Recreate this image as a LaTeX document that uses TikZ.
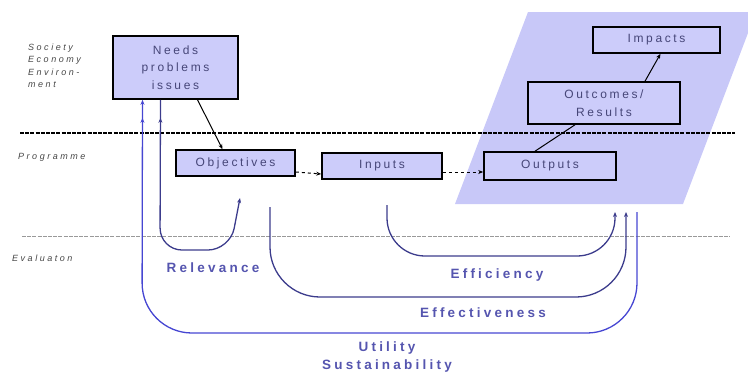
\documentclass[tikz,border=0pt]{standalone}
\usepackage{fontspec}
\setmainfont{Liberation Sans}
\newfontfamily\boxfont[LetterSpace=22]{Liberation Sans}
\newfontfamily\labfont[LetterSpace=24]{Liberation Sans}
\newfontfamily\sidefont[LetterSpace=28]{Liberation Sans}
\usetikzlibrary{arrows.meta,decorations.markings}
\definecolor{boxfill}{RGB}{204,204,250}
\definecolor{parfill}{RGB}{200,200,248}
\definecolor{boxtext}{RGB}{70,70,120}
\definecolor{navy}{RGB}{60,60,140}
\definecolor{brightblue}{RGB}{70,70,210}
\definecolor{labblue}{RGB}{85,85,175}
\definecolor{sidegray}{RGB}{70,70,70}
\tikzset{
  box/.style={draw=black, line width=1.6pt, fill=boxfill, text=boxtext,
    font=\boxfont\fontsize{12}{17.5}\selectfont, align=center, inner sep=0pt},
  sidelab/.style={text=sidegray, font=\sidefont\itshape\fontsize{9}{12.5}\selectfont, align=left, anchor=west, inner sep=0pt},
  evallab/.style={text=labblue, font=\labfont\bfseries\fontsize{13.5}{18}\selectfont, inner sep=0pt},
  loop/.style={draw=navy, line width=1.3pt},
  uloop/.style={draw=brightblue, line width=1.3pt},
  tip/.style={-{Stealth[length=5pt,width=4pt]}},
  flow/.style={draw=black, line width=1pt},
}
\begin{document}
\begin{tikzpicture}[x=1pt,y=-1pt]
\useasboundingbox (0,0) rectangle (748,376);
% parallelogram
\fill[parfill] (455,204) -- (683,204) -- (756,12) -- (528,12) -- cycle;
\fill[white] (748,0) rectangle (760,376);
% separator lines
\draw[black, line width=2.2pt, dash pattern=on 4pt off 1.2pt] (20,133) -- (735,133);
\draw[gray!80, line width=1pt, dash pattern=on 4pt off 1.2pt] (22,236) -- (730,236);
% side labels
\node[sidelab] (soc) at (28,66) {Society\\Economy\\Environ-\\ment};
\node[sidelab] (prog) at (18,157) {Programme};
\node[sidelab] (eval) at (12,258) {Evaluaton};
% boxes
\node[box, minimum width=125pt, minimum height=63pt] (needs) at (175.5,67.5) {Needs\\problems\\issues};
\node[box, minimum width=119pt, minimum height=26pt] (obj) at (235.5,163) {Objectives};
\node[box, minimum width=120pt, minimum height=26pt] (inp) at (382,166) {Inputs};
\node[box, minimum width=132pt, minimum height=28pt] (outp) at (550,166) {Outputs};
\node[box, minimum width=152pt, minimum height=42pt] (outc) at (604,103) {Outcomes/\\Results};
\node[box, minimum width=127pt, minimum height=26pt] (imp) at (656.5,40) {Impacts};
% flow connectors
\draw[flow, tip] ([xshift=22pt]needs.south) -- ([xshift=-13pt]obj.north);
\draw[flow, tip, dashed] (obj.east |- 0,172) -- (inp.west |- 0,174);
\draw[flow, tip, dashed] (inp.east |- 0,172) -- (outp.west |- 0,172);
\draw[flow] ([xshift=-15pt]outp.north) -- ([xshift=-29pt]outc.south);
\draw[flow, tip] ([xshift=41pt]outc.north) -- ([xshift=4pt]imp.south);
% evaluation loops
\coordinate (relend) at (240,198);
\coordinate (effstart) at (387,205);
\coordinate (fctstart) at (270,207);
\coordinate (a1) at (615,212);
\coordinate (a2) at (626,212);
\coordinate (a3) at (637,212);
\draw[loop, tip, rounded corners=22pt, postaction={decorate},
  decoration={markings, mark=at position 18pt with {\arrowreversed{Stealth[length=5pt,width=4pt]}}}]
  ([xshift=-15pt]needs.south) -- (160,250) -- (230,250) -- (relend);
\draw[loop, tip, rounded corners=38pt] (effstart) -- (387,256) -- (615,256) -- (a1);
\draw[loop, tip, rounded corners=50pt] (fctstart) -- (270,297) -- (626,297) -- (a2);
\draw[uloop, tip, rounded corners=50pt, postaction={decorate},
  decoration={markings, mark=at position -18pt with {\arrow{Stealth[length=5pt,width=4pt]}}}]
  (a3) -- (637,333) -- (142,333) -- ([xshift=-33pt]needs.south);
% loop labels
\node[evallab] (lrel) at (213,268) {Relevance};
\node[evallab] (leff) at (497,275) {Efficiency};
\node[evallab] (lfct) at (483,313) {Effectiveness};
\node[evallab, align=center] (lut) at (387,357) {Utility\\Sustainability};
\end{tikzpicture}
\end{document}
